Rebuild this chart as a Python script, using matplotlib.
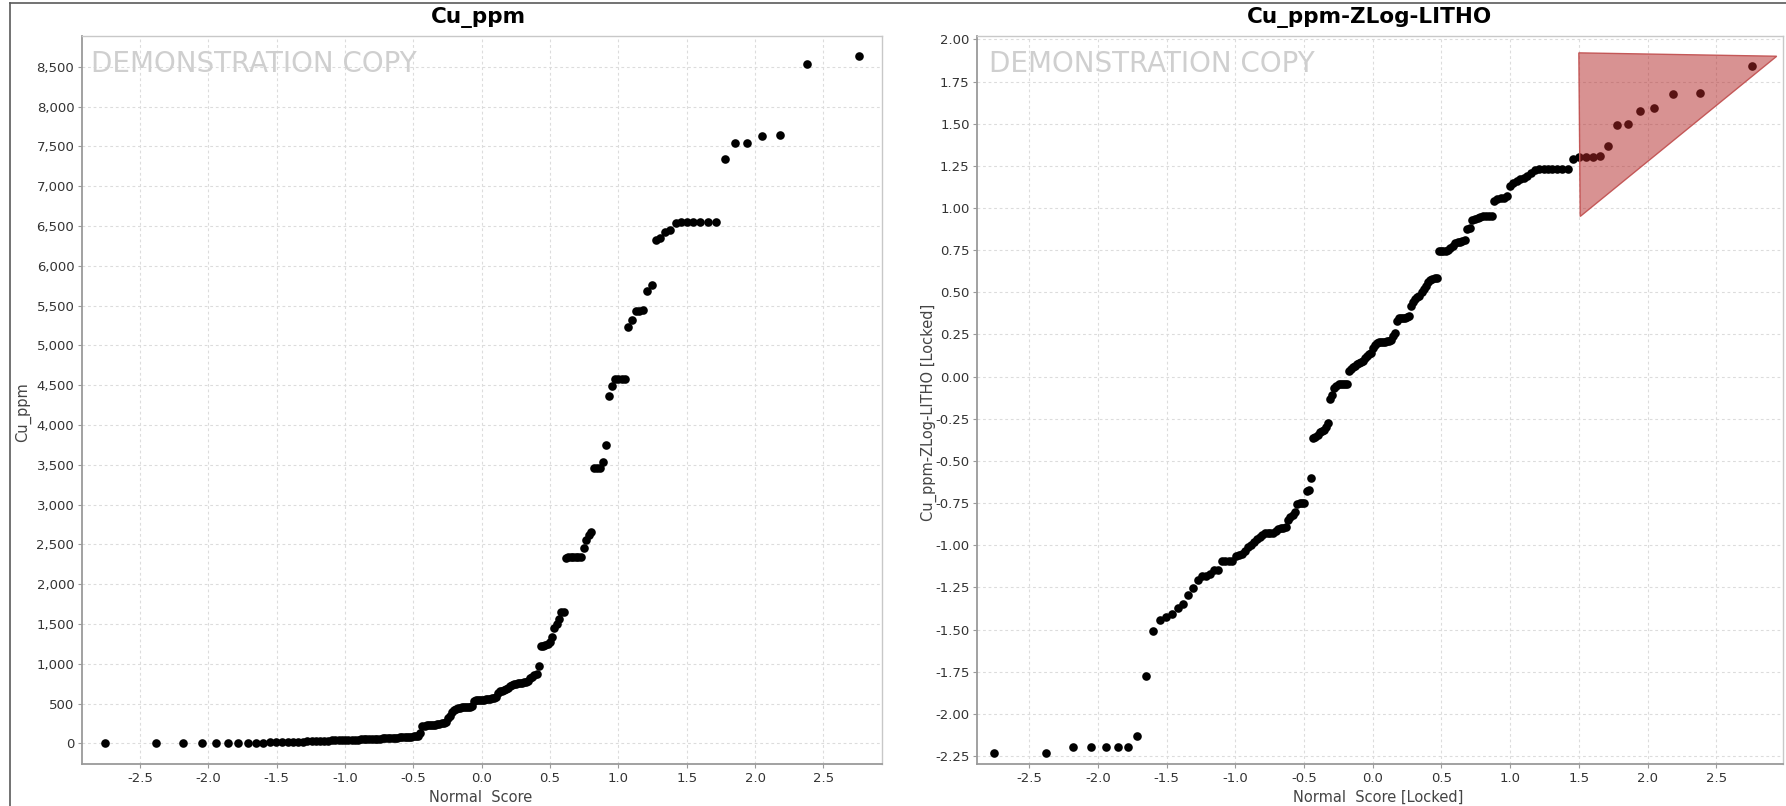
import matplotlib
matplotlib.use("Agg")
import matplotlib.pyplot as plt
from matplotlib.lines import Line2D
from matplotlib.ticker import FixedLocator, FixedFormatter

plt.rcParams["axes.unicode_minus"] = False
plt.rcParams["font.family"] = ["DejaVu Sans"]

# ---------------- data ----------------
normal_score = [
    -2.76, -2.38, -2.185, -2.05, -1.943, -1.855, -1.780, -1.713, -1.653, -1.600,
    -1.549, -1.503, -1.459, -1.419, -1.380, -1.343, -1.308, -1.275, -1.243, -1.212,
    -1.183, -1.154, -1.126, -1.099, -1.073, -1.047, -1.023, -0.998, -0.975, -0.952,
    -0.930, -0.907, -0.886, -0.865, -0.844, -0.823, -0.803, -0.783, -0.764, -0.745,
    -0.725, -0.707, -0.688, -0.670, -0.652, -0.634, -0.617, -0.599, -0.582, -0.564,
    -0.548, -0.531, -0.514, -0.498, -0.482, -0.466, -0.450, -0.434, -0.417, -0.402,
    -0.386, -0.370, -0.355, -0.339, -0.324, -0.309, -0.294, -0.279, -0.264, -0.249,
    -0.234, -0.219, -0.204, -0.190, -0.175, -0.160, -0.146, -0.131, -0.116, -0.102,
    -0.087, -0.073, -0.058, -0.044, -0.029, -0.014, 0.0,
    0.014, 0.029, 0.044, 0.058, 0.073, 0.087,
    0.102, 0.116, 0.131, 0.146, 0.160, 0.175, 0.190, 0.204, 0.219, 0.234,
    0.249, 0.264, 0.279, 0.294, 0.309, 0.324, 0.339, 0.355, 0.370, 0.386,
    0.402, 0.417, 0.434, 0.450, 0.466, 0.482, 0.498, 0.514, 0.531, 0.548,
    0.564, 0.582, 0.599, 0.617, 0.634, 0.652, 0.670, 0.688, 0.707, 0.725,
    0.745, 0.764, 0.783, 0.803, 0.823, 0.844, 0.865, 0.886, 0.907, 0.930,
    0.952, 0.975, 0.998, 1.023, 1.047, 1.073, 1.099, 1.126, 1.154, 1.183,
    1.212, 1.243, 1.275, 1.308, 1.343, 1.380, 1.419, 1.459, 1.503, 1.549,
    1.600, 1.653, 1.713, 1.780, 1.855, 1.943, 2.05, 2.185, 2.38, 2.76,
]

cu_ppm = [
    0, 0, 1, 2, 3, 4, 5, 7, 9, 11,
    13, 15, 17, 19, 20, 22, 24, 26, 28, 30,
    32, 34, 36, 38, 40, 41, 42, 43, 44, 45,
    47, 48, 50, 52, 54, 56, 58, 59, 60, 61,
    63, 65, 67, 70, 72, 73, 74, 75, 76, 77,
    79, 82, 85, 88, 92, 100, 130, 222, 225, 228,
    230, 232, 235, 238, 242, 248, 255, 260, 265, 320,
    350, 390, 420, 435, 445, 450, 452, 455, 458, 460,
    462, 465, 530, 540, 545, 548, 550, 552, 555, 558,
    560, 565, 570, 580, 640, 655, 665, 670, 680, 700,
    725, 740, 745, 750, 755, 758, 762, 766, 770, 780,
    820, 840, 855, 870, 974, 1220, 1228, 1235, 1250, 1270,
    1337, 1451, 1500, 1565, 1650, 1655, 2335, 2340, 2340, 2340,
    2340, 2342, 2345, 2457, 2562, 2625, 2655, 3455, 3457, 3460,
    3537, 3751, 4368, 4494, 4578, 4578, 4580, 4582, 5238, 5321,
    5438, 5438, 5440, 5681, 5760, 6328, 6345, 6430, 6450, 6540,
    6545, 6545, 6545, 6545, 6545, 6545, 7347, 7539, 7539, 7631,
    7648, 8542, 8634,
]

cu_zlog_litho = [
    -2.233, -2.233, -2.195, -2.195, -2.195, -2.195, -2.195, -2.13, -1.775, -1.509,
    -1.446, -1.426, -1.41, -1.371, -1.351, -1.292, -1.252, -1.203, -1.183, -1.183,
    -1.168, -1.148, -1.148, -1.095, -1.095, -1.095, -1.095, -1.065, -1.06, -1.05,
    -1.035, -1.01, -0.996, -0.98, -0.965, -0.95, -0.937, -0.927, -0.927, -0.927,
    -0.925, -0.913, -0.905, -0.897, -0.895, -0.89, -0.848, -0.835, -0.82, -0.80,
    -0.753, -0.75, -0.75, -0.75, -0.68, -0.675, -0.60, -0.361, -0.355, -0.345,
    -0.33, -0.325, -0.316, -0.30, -0.272, -0.132, -0.108, -0.065, -0.055, -0.045,
    -0.045, -0.045, -0.045, -0.045, 0.035, 0.045, 0.055, 0.063, 0.075, 0.08,
    0.087, 0.095, 0.11, 0.12, 0.134, 0.14, 0.17, 0.19, 0.20, 0.205,
    0.205, 0.205, 0.205, 0.21, 0.21, 0.22, 0.24, 0.26, 0.33, 0.345,
    0.345, 0.35, 0.35, 0.355, 0.36, 0.42, 0.44, 0.46, 0.47, 0.48,
    0.50, 0.52, 0.54, 0.56, 0.575, 0.58, 0.585, 0.587, 0.745, 0.745,
    0.745, 0.745, 0.75, 0.76, 0.775, 0.79, 0.80, 0.80, 0.805, 0.81,
    0.873, 0.88, 0.93, 0.935, 0.94, 0.945, 0.95, 0.95, 0.95, 0.955,
    1.04, 1.055, 1.06, 1.06, 1.07, 1.13, 1.15, 1.16, 1.17, 1.18,
    1.19, 1.21, 1.225, 1.233, 1.233, 1.233, 1.233, 1.233, 1.233, 1.233,
    1.29, 1.30, 1.305, 1.305, 1.31, 1.369, 1.49, 1.496, 1.577, 1.591,
    1.676, 1.684, 1.84,
]

# selection triangle on the right chart (data coordinates)
tri_x = [1.50, 2.94, 1.51]
tri_y = [1.92, 1.90, 0.95]

x_ticks = [-2.5, -2.0, -1.5, -1.0, -0.5, 0.0, 0.5, 1.0, 1.5, 2.0, 2.5]
x_tick_labels = ["-2.5", "-2.0", "-1.5", "-1.0", "-0.5", "0.0", "0.5", "1.0", "1.5", "2.0", "2.5"]
left_y_ticks = [0, 500, 1000, 1500, 2000, 2500, 3000, 3500, 4000, 4500,
                5000, 5500, 6000, 6500, 7000, 7500, 8000, 8500]
left_y_labels = ["0", "500", "1,000", "1,500", "2,000", "2,500", "3,000", "3,500", "4,000",
                 "4,500", "5,000", "5,500", "6,000", "6,500", "7,000", "7,500", "8,000", "8,500"]
right_y_ticks = [-2.25, -2.0, -1.75, -1.5, -1.25, -1.0, -0.75, -0.5, -0.25, 0.0,
                 0.25, 0.5, 0.75, 1.0, 1.25, 1.5, 1.75, 2.0]
right_y_labels = ["-2.25", "-2.00", "-1.75", "-1.50", "-1.25", "-1.00", "-0.75", "-0.50", "-0.25",
                  "0.00", "0.25", "0.50", "0.75", "1.00", "1.25", "1.50", "1.75", "2.00"]

# ---------------- figure ----------------
W, H = 1786, 806
fig = plt.figure(figsize=(W / 100, H / 100), dpi=100)
fig.patch.set_facecolor("white")

axL = fig.add_axes([82 / W, 1 - 764 / H, (881.7 - 82) / W, (764 - 36) / H])
axR = fig.add_axes([977.3 / W, 1 - 764 / H, (1783.3 - 977.3) / W, (764 - 36) / H])


def style(ax):
    ax.set_facecolor("white")
    ax.grid(True, color="#dcdcdc", linestyle=(0, (2.5, 2.5)), linewidth=0.8)
    ax.set_axisbelow(True)
    for s in ("left", "bottom"):
        ax.spines[s].set_color("#9a9a9a")
        ax.spines[s].set_linewidth(1.3)
    for s in ("top", "right"):
        ax.spines[s].set_color("#c8c8c8")
        ax.spines[s].set_linewidth(1.0)
    ax.tick_params(direction="out", length=3, width=0.8, color="#9a9a9a",
                   labelsize=9.5, labelcolor="#333333", pad=2.5)


style(axL)
style(axR)

# left chart
axL.plot(normal_score, cu_ppm, "o", color="black", ms=6.2, mew=0, zorder=3)
axL.set_xlim(-2.925, 2.927)
axL.set_ylim(-258, 8888)
axL.xaxis.set_major_locator(FixedLocator(x_ticks))
axL.xaxis.set_major_formatter(FixedFormatter(x_tick_labels))
axL.yaxis.set_major_locator(FixedLocator(left_y_ticks))
axL.yaxis.set_major_formatter(FixedFormatter(left_y_labels))
axL.text(0.0113, 0.9615, "DEMONSTRATION COPY", transform=axL.transAxes,
         fontsize=20, color="#cfcfcf", ha="left", va="center", zorder=1)

# right chart
axR.plot(normal_score, cu_zlog_litho, "o", color="black", ms=6.2, mew=0, zorder=3)
axR.fill(tri_x, tri_y, facecolor=(0.70, 0.15, 0.15, 0.5),
         edgecolor=(0.76, 0.32, 0.32, 0.95), linewidth=1.0, zorder=4)
axR.set_xlim(-2.878, 2.988)
axR.set_ylim(-2.297, 2.02)
axR.xaxis.set_major_locator(FixedLocator(x_ticks))
axR.xaxis.set_major_formatter(FixedFormatter(x_tick_labels))
axR.yaxis.set_major_locator(FixedLocator(right_y_ticks))
axR.yaxis.set_major_formatter(FixedFormatter(right_y_labels))
axR.text(0.0145, 0.9615, "DEMONSTRATION COPY", transform=axR.transAxes,
         fontsize=20, color="#cfcfcf", ha="left", va="center", zorder=1)

# titles and axis labels
fig.text(478 / W, 1 - 18 / H, "Cu_ppm", ha="center", va="center",
         fontsize=15.5, fontweight="bold", color="black")
fig.text(1370 / W, 1 - 18 / H, "Cu_ppm-ZLog-LITHO", ha="center", va="center",
         fontsize=15.5, fontweight="bold", color="black")
fig.text(481 / W, 1 - 797 / H, "Normal  Score", ha="center", va="center",
         fontsize=10.5, color="#444444")
fig.text(1378 / W, 1 - 797 / H, "Normal  Score [Locked]", ha="center", va="center",
         fontsize=10.5, color="#444444")
fig.text(23 / W, 1 - 412 / H, "Cu_ppm", ha="center", va="center", rotation=90,
         fontsize=10.5, color="#444444")
fig.text(929 / W, 1 - 412 / H, "Cu_ppm-ZLog-LITHO [Locked]", ha="center", va="center",
         rotation=90, fontsize=10.5, color="#444444")

# outer panel border
fig.add_artist(Line2D([10 / W, 1.0], [1 - 3 / H, 1 - 3 / H], transform=fig.transFigure,
                      color="#5a5a5a", linewidth=1.2))
fig.add_artist(Line2D([10 / W, 10 / W], [0.0, 1 - 3 / H], transform=fig.transFigure,
                      color="#5a5a5a", linewidth=1.2))

fig.savefig("out.png", dpi=100)
